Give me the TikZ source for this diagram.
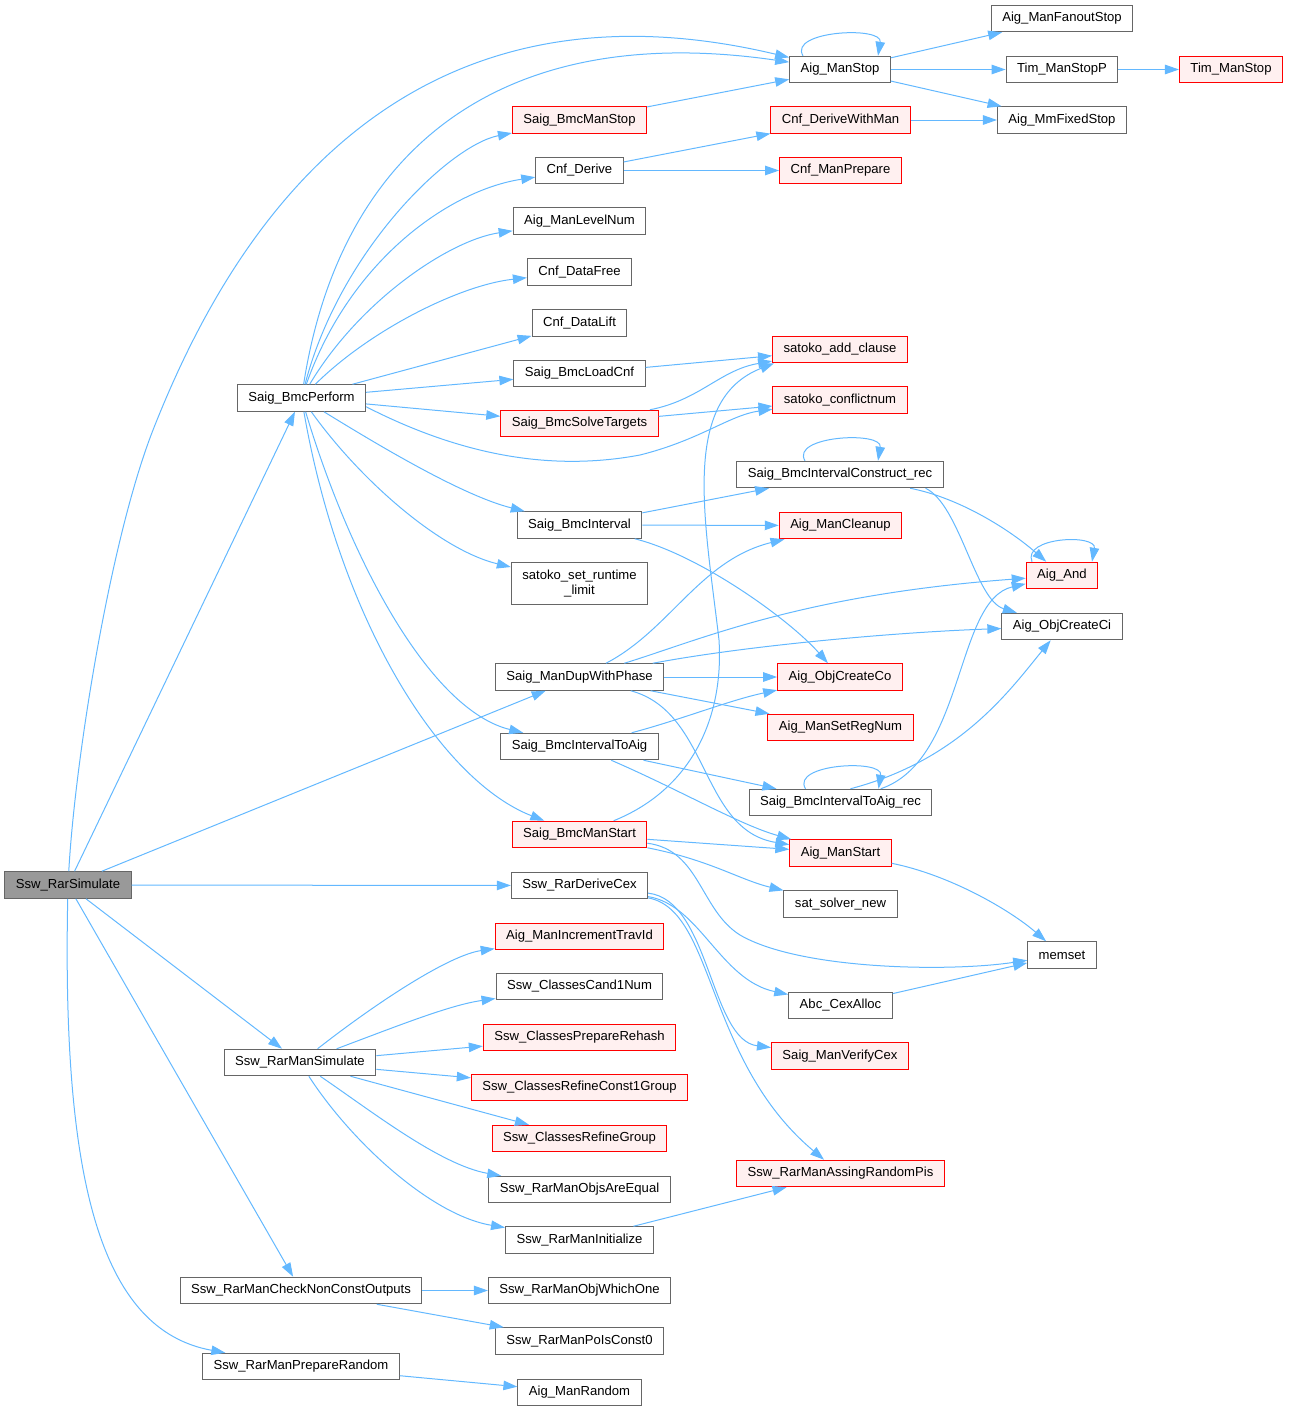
\documentclass[tikz,border=0pt]{standalone}
\usepackage{fontspec}
\setmainfont{Liberation Sans}
\usetikzlibrary{arrows.meta}
\definecolor{edgeblue}{HTML}{63B8FF}
\definecolor{boxgray}{HTML}{666666}
\definecolor{hlred}{HTML}{FF0000}
\definecolor{hlfill}{HTML}{FFF0F0}
\definecolor{rootfill}{HTML}{999999}
\begin{document}
\begin{tikzpicture}[x=1pt, y=-1pt,
  fn/.style={draw=boxgray, fill=white, line width=1pt, inner xsep=11pt, inner ysep=7pt,
    minimum height=26.5pt, font=\fontsize{13.1}{15.5}\selectfont},
  hl/.style={draw=hlred, fill=hlfill},
  root/.style={fill=rootfill},
  edge/.style={draw=edgeblue, line width=1pt, -{Triangle[length=14pt,width=9.5pt]}}]
\useasboundingbox (0,0) rectangle (1288,1411);

\node[fn, root] (srs) at (68,885) {Ssw\_RarSimulate};
\node[fn] (sbp) at (301.5,398) {Saig\_BmcPerform};
\node[fn] (ams) at (840,69.5) {Aig\_ManStop};
\node[fn] (amfs) at (1062,18.5) {Aig\_ManFanoutStop};
\node[fn] (tmsp) at (1062,69.5) {Tim\_ManStopP};
\node[fn, hl] (tms) at (1231,69.5) {Tim\_ManStop};
\node[fn] (ammf) at (1062,120) {Aig\_MmFixedStop};
\node[fn, hl] (sbms) at (579.5,120) {Saig\_BmcManStop};
\node[fn, hl] (cdwm) at (840.5,120) {Cnf\_DeriveWithMan};
\node[fn] (cd) at (579.5,170.5) {Cnf\_Derive};
\node[fn, hl] (cmp) at (840.5,170.5) {Cnf\_ManPrepare};
\node[fn] (amln) at (579.5,221) {Aig\_ManLevelNum};
\node[fn] (cdf) at (579.5,272) {Cnf\_DataFree};
\node[fn] (cdl) at (579.5,323) {Cnf\_DataLift};
\node[fn] (sblc) at (579.5,373.5) {Saig\_BmcLoadCnf};
\node[fn, hl] (sac) at (840,349.5) {satoko\_add\_clause};
\node[fn, hl] (sbst) at (579.5,423.5) {Saig\_BmcSolveTargets};
\node[fn, hl] (scn) at (840,400) {satoko\_conflictnum};
\node[fn] (sbicr) at (840,474.5) {Saig\_BmcIntervalConstruct\_rec};
\node[fn] (sbi) at (579.5,525) {Saig\_BmcInterval};
\node[fn, hl] (amc) at (840.5,525.5) {Aig\_ManCleanup};
\node[fn, align=center] (ssrl) at (579.5,583.5) {satoko\_set\_runtime\\\_limit};
\node[fn, hl] (aand) at (1062,575.5) {Aig\_And};
\node[fn] (aoci) at (1062,626.5) {Aig\_ObjCreateCi};
\node[fn] (smdp) at (579.5,677) {Saig\_ManDupWithPhase};
\node[fn, hl] (aoco) at (840,677) {Aig\_ObjCreateCo};
\node[fn, hl] (amsr) at (840.5,727.5) {Aig\_ManSetRegNum};
\node[fn] (sbita) at (579.5,746.5) {Saig\_BmcIntervalToAig};
\node[fn] (sbitar) at (840.5,802.5) {Saig\_BmcIntervalToAig\_rec};
\node[fn, hl] (sbmst) at (579.5,834.5) {Saig\_BmcManStart};
\node[fn, hl] (amst) at (840.5,853) {Aig\_ManStart};
\node[fn] (srdc) at (579.5,885.5) {Ssw\_RarDeriveCex};
\node[fn] (ssn) at (840.5,904) {sat\_solver\_new};
\node[fn, hl] (amit) at (579.5,936.5) {Aig\_ManIncrementTravId};
\node[fn] (mset) at (1062,955) {memset};
\node[fn] (aca) at (840.5,1005.5) {Abc\_CexAlloc};
\node[fn, hl] (smvc) at (840,1056) {Saig\_ManVerifyCex};
\node[fn] (sccn) at (579.5,986.5) {Ssw\_ClassesCand1Num};
\node[fn, hl] (scpr) at (579.5,1037.5) {Ssw\_ClassesPrepareRehash};
\node[fn] (srms) at (300,1062.5) {Ssw\_RarManSimulate};
\node[fn, hl] (scrc) at (579.5,1087.5) {Ssw\_ClassesRefineConst1Group};
\node[fn, hl] (scrg) at (579.5,1138.5) {Ssw\_ClassesRefineGroup};
\node[fn] (srmoe) at (579.5,1189.5) {Ssw\_RarManObjsAreEqual};
\node[fn] (srmi) at (579.5,1240) {Ssw\_RarManInitialize};
\node[fn, hl] (srmarp) at (840.5,1173.5) {Ssw\_RarManAssingRandomPis};
\node[fn] (srmcn) at (301,1290.5) {Ssw\_RarManCheckNonConstOutputs};
\node[fn] (srmow) at (579.5,1290.5) {Ssw\_RarManObjWhichOne};
\node[fn] (srmpc) at (579.5,1341) {Ssw\_RarManPoIsConst0};
\node[fn] (srmpr) at (301,1366.5) {Ssw\_RarManPrepareRandom};
\node[fn] (amr) at (579.5,1392.5) {Aig\_ManRandom};

\draw[edge] (srs) .. controls (75,760) and (110,540) .. (153,430) .. controls (220,260) and (380,-40) .. (ams);
\draw[edge] (srs) -- (sbp);
\draw[edge] (srs) -- (smdp);
\draw[edge] (srs) -- (srdc);
\draw[edge] (srs) -- (srms);
\draw[edge] (srs) -- (srmcn);
\draw[edge] (srs) .. controls (62,1180) and (100,1330) .. (srmpr);

\draw[edge] (sbp) .. controls (340,150) and (500,20) .. (ams);
\draw[edge] (sbp) .. controls (340,250) and (450,145) .. (sbms);
\draw[edge] (sbp) .. controls (350,260) and (450,190) .. (cd);
\draw[edge] (sbp) .. controls (360,300) and (450,240) .. (amln);
\draw[edge] (sbp) .. controls (370,330) and (460,285) .. (cdf);
\draw[edge] (sbp) -- (cdl);
\draw[edge] (sbp) -- (sblc);
\draw[edge] (sbp) -- (sbst);
\draw[edge] ([yshift=5pt]sbp.south east) .. controls (470,460) and (560,470) .. (640,455) .. controls (700,440) and (730,415) .. (scn);
\draw[edge] (sbp) .. controls (370,440) and (460,495) .. (sbi);
\draw[edge] (sbp) .. controls (360,480) and (440,550) .. (ssrl);
\draw[edge] (sbp) .. controls (350,560) and (430,710) .. (sbita);
\draw[edge] (sbp) .. controls (340,620) and (440,780) .. (sbmst);

\draw[edge] (sbms) -- (ams);
\draw[edge] ([xshift=-37pt]ams.north) .. controls +(-15,-25) and +(5,-30) .. ([xshift=38pt]ams.north);
\draw[edge] (ams) -- (amfs);
\draw[edge] (ams) -- (tmsp);
\draw[edge] (ams) -- (ammf);
\draw[edge] (tmsp) -- (tms);
\draw[edge] (cd) -- (cdwm);
\draw[edge] (cd) -- (cmp);
\draw[edge] (cdwm) -- (ammf);
\draw[edge] (sblc) -- (sac);
\draw[edge] (sbst) .. controls (700,400) and (720,370) .. (sac);
\draw[edge] (sbst) -- (scn);

\draw[edge] (sbi) -- (sbicr);
\draw[edge] (sbi) -- (amc);
\draw[edge] (sbi) .. controls (700,555) and (790,620) .. (aoco);
\draw[edge] ([xshift=-35pt]sbicr.north) .. controls +(-15,-25) and +(5,-30) .. ([xshift=38pt]sbicr.north);
\draw[edge] (sbicr) .. controls (960,498) and (1010,530) .. (aand);
\draw[edge] ([xshift=-18pt]sbicr.south east) .. controls (960,505) and (975,600) .. (aoci);
\draw[edge] ([xshift=-30pt]aand.north) .. controls +(-10,-25) and +(5,-28) .. ([xshift=30pt]aand.north);

\draw[edge] (smdp) .. controls (670,630) and (700,560) .. (amc);
\draw[edge] (smdp) .. controls (700,640) and (800,595) .. (aand);
\draw[edge] (smdp) .. controls (750,645) and (900,632) .. (aoci);
\draw[edge] (smdp) -- (aoco);
\draw[edge] (smdp) -- (amsr);
\draw[edge] (smdp) .. controls (710,712) and (700,830) .. (amst);

\draw[edge] (sbita) .. controls (680,720) and (730,700) .. (aoco);
\draw[edge] (sbita) -- (sbitar);
\draw[edge] (sbita) .. controls (680,790) and (740,825) .. (amst);
\draw[edge] ([xshift=-35pt]sbitar.north) .. controls +(-15,-25) and +(5,-30) .. ([xshift=38pt]sbitar.north);
\draw[edge] (sbitar) .. controls (965,760) and (955,600) .. (aand);
\draw[edge] ([xshift=10pt]sbitar.north) .. controls (960,760) and (1010,690) .. (aoci);

\draw[edge] (sbmst) .. controls (690,790) and (724,720) .. (719,640) .. controls (705,520) and (680,400) .. ([xshift=2pt]sac.south west);
\draw[edge] (sbmst) -- (amst);
\draw[edge] (sbmst) .. controls (710,860) and (740,880) .. (ssn);
\draw[edge] (sbmst) .. controls (700,850) and (700,910) .. (740,935) .. controls (800,970) and (950,972) .. (mset);
\draw[edge] (amst) .. controls (950,875) and (1010,910) .. (mset);

\draw[edge] (srdc) .. controls (700,905) and (720,980) .. (aca);
\draw[edge] (srdc) .. controls (710,900) and (710,1040) .. (smvc);
\draw[edge] (srdc) .. controls (715,910) and (705,1060) .. (srmarp);
\draw[edge] (aca) -- (mset);

\draw[edge] (srms) .. controls (380,1000) and (450,955) .. (amit);
\draw[edge] (srms) .. controls (400,1025) and (450,1005) .. (sccn);
\draw[edge] (srms) -- (scpr);
\draw[edge] (srms) -- (scrc);
\draw[edge] (srms) -- (scrg);
\draw[edge] (srms) .. controls (370,1110) and (440,1165) .. (srmoe);
\draw[edge] (srms) .. controls (350,1140) and (430,1215) .. (srmi);
\draw[edge] (srmi) -- (srmarp);

\draw[edge] (srmcn) -- (srmow);
\draw[edge] (srmcn) -- (srmpc);
\draw[edge] (srmpr) -- (amr);
\end{tikzpicture}
\end{document}
